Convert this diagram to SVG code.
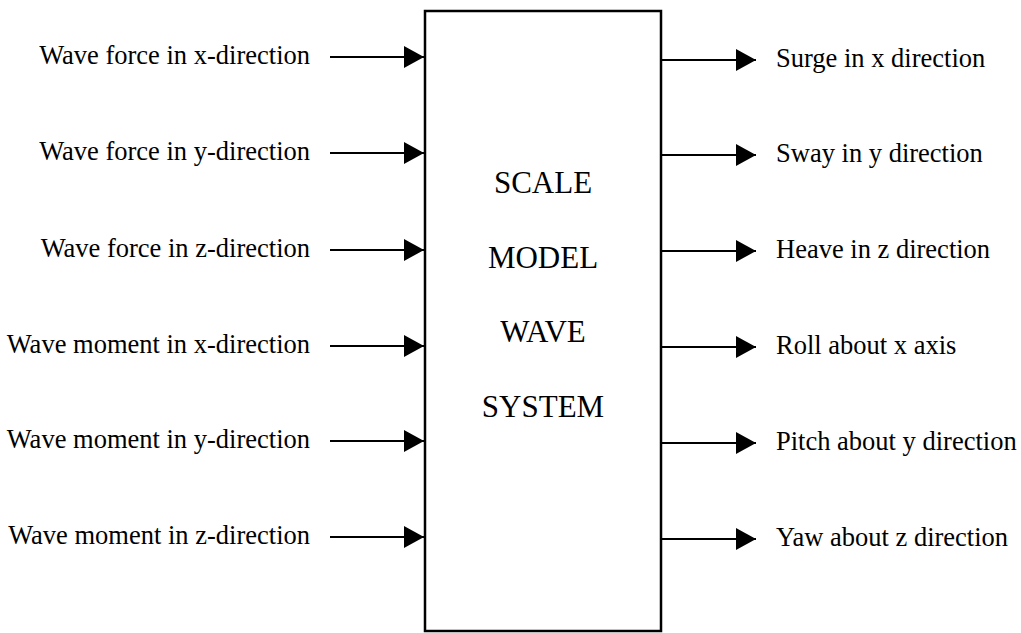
<svg xmlns="http://www.w3.org/2000/svg" width="1021" height="633" viewBox="0 0 1021 633">
  <style>
    .lbl { font-family: "Liberation Serif", "Times New Roman", serif; font-size: 26.5px; fill: #000; }
    .in { text-anchor: end; }
    .core { font-family: "Liberation Serif", "Times New Roman", serif; font-size: 31px; fill: #000; text-anchor: middle; }
    .wire { stroke: #000; stroke-width: 2; fill: none; }
  </style>
  <defs>
    <marker id="head" viewBox="0 0 20 22" refX="20" refY="11" markerWidth="20" markerHeight="22" markerUnits="userSpaceOnUse" orient="auto">
      <path d="M0,0 L20,11 L0,22 Z" fill="#000"/>
    </marker>
  </defs>

  <rect width="1021" height="633" fill="#fff"/>

  <!-- central block -->
  <g id="system">
    <rect x="425" y="11" width="236" height="620" fill="#fff" stroke="#000" stroke-width="2.5"/>
    <text class="core" x="543" y="193">SCALE</text>
    <text class="core" x="543" y="268">MODEL</text>
    <text class="core" x="543" y="342">WAVE</text>
    <text class="core" x="543" y="417">SYSTEM</text>
  </g>

  <!-- input labels -->
  <g id="in-fx"><text class="lbl in" x="310" y="64">Wave force in x-direction</text></g>
  <g id="in-fy"><text class="lbl in" x="310" y="160">Wave force in y-direction</text></g>
  <g id="in-fz"><text class="lbl in" x="310" y="257">Wave force in z-direction</text></g>
  <g id="in-mx"><text class="lbl in" x="310" y="353">Wave moment in x-direction</text></g>
  <g id="in-my"><text class="lbl in" x="310" y="448">Wave moment in y-direction</text></g>
  <g id="in-mz"><text class="lbl in" x="310" y="544">Wave moment in z-direction</text></g>

  <!-- output labels -->
  <g id="out-surge"><text class="lbl" x="776" y="67">Surge in x direction</text></g>
  <g id="out-sway"><text class="lbl" x="776" y="162">Sway in y direction</text></g>
  <g id="out-heave"><text class="lbl" x="776" y="258">Heave in z direction</text></g>
  <g id="out-roll"><text class="lbl" x="776" y="354">Roll about x axis</text></g>
  <g id="out-pitch"><text class="lbl" x="776" y="450">Pitch about y direction</text></g>
  <g id="out-yaw"><text class="lbl" x="776" y="546">Yaw about z direction</text></g>

  <!-- connectors -->
  <g id="connectors" class="wire">
    <line class="wire" x1="330" y1="57" x2="424" y2="57" marker-end="url(#head)"/>
    <line class="wire" x1="330" y1="153" x2="424" y2="153" marker-end="url(#head)"/>
    <line class="wire" x1="330" y1="250" x2="424" y2="250" marker-end="url(#head)"/>
    <line class="wire" x1="330" y1="346" x2="424" y2="346" marker-end="url(#head)"/>
    <line class="wire" x1="330" y1="441" x2="424" y2="441" marker-end="url(#head)"/>
    <line class="wire" x1="330" y1="537" x2="424" y2="537" marker-end="url(#head)"/>

    <line class="wire" x1="662" y1="60" x2="756" y2="60" marker-end="url(#head)"/>
    <line class="wire" x1="662" y1="155" x2="756" y2="155" marker-end="url(#head)"/>
    <line class="wire" x1="662" y1="251" x2="756" y2="251" marker-end="url(#head)"/>
    <line class="wire" x1="662" y1="347" x2="756" y2="347" marker-end="url(#head)"/>
    <line class="wire" x1="662" y1="443" x2="756" y2="443" marker-end="url(#head)"/>
    <line class="wire" x1="662" y1="539" x2="756" y2="539" marker-end="url(#head)"/>
  </g>
</svg>
